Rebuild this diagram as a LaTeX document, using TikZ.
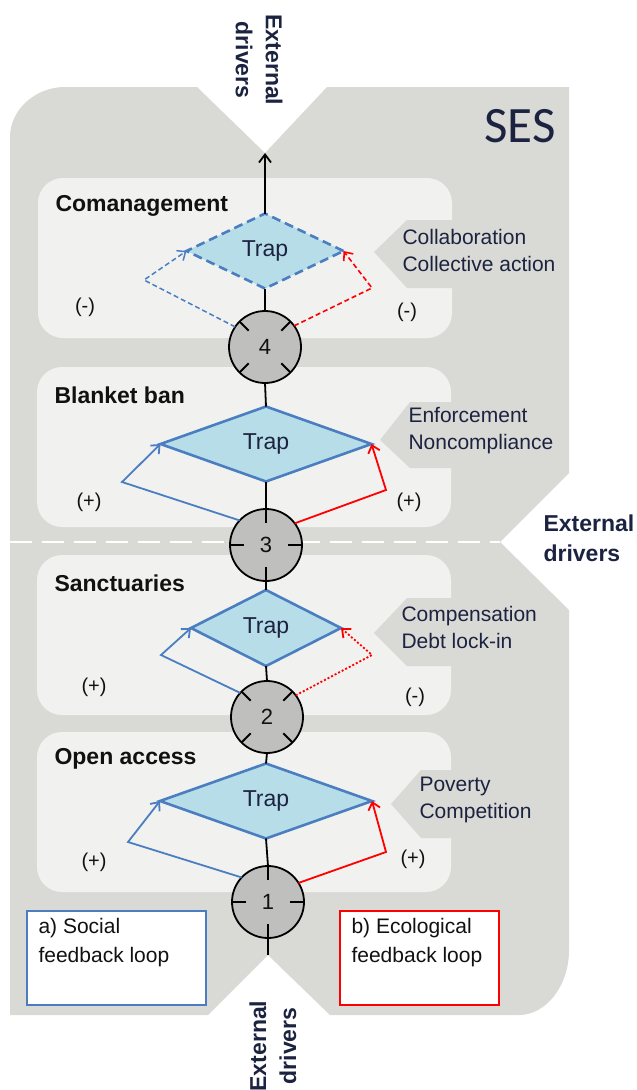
\documentclass[tikz,border=0pt]{standalone}
\usepackage{fontspec}
\setmainfont{Liberation Sans}
\newfontfamily\sesfont{Carlito}
\usetikzlibrary{shapes.geometric,arrows.meta}
\definecolor{outg}{HTML}{D9D9D5}
\definecolor{pang}{HTML}{F1F1F0}
\definecolor{sblue}{RGB}{74,126,193}
\definecolor{sred}{RGB}{255,0,0}
\definecolor{dfill}{HTML}{B7DEE8}
\definecolor{cfill}{HTML}{BFC0BE}
\definecolor{navy}{HTML}{1C2340}
\definecolor{ink}{HTML}{111111}
\begin{document}
\begin{tikzpicture}[x=1pt,y=-1pt,
  panel/.style={fill=pang,rounded corners=25pt},
  trapbox/.style={shape=diamond,draw=sblue,fill=dfill,line width=2.6pt,inner sep=0pt,outer sep=0pt,
    text=navy,font=\fontsize{23}{27}\selectfont},
  circbase/.style={circle,draw=black,fill=cfill,line width=1.8pt,minimum size=72pt,inner sep=0pt,outer sep=0pt,
    text=ink,font=\fontsize{22}{26}\selectfont},
  crosscirc/.style={circbase,path picture={\foreach \a in {0,90,180,270}
      \draw[line width=1.8pt] (path picture bounding box.center) ++(\a:22pt) -- ++(\a:20pt);}},
  diagcirc/.style={circbase,path picture={\foreach \a in {45,135,225,315}
      \draw[line width=1.8pt] (path picture bounding box.center) ++(\a:23pt) -- ++(\a:20pt);}},
  vline/.style={draw=black,line width=1.8pt},
  bloop/.style={draw=sblue,line width=1.8pt,-{Straight Barb[length=7pt,width=12pt]}},
  rloop/.style={draw=sred,line width=1.8pt,-{Straight Barb[length=7pt,width=12pt]}},
  title/.style={anchor=west,text=ink,font=\fontsize{23}{27}\selectfont\bfseries},
  callout/.style={anchor=west,align=left,text=navy,font=\fontsize{21}{27}\selectfont},
  sign/.style={text=ink,font=\fontsize{20}{24}\selectfont},
  drivers/.style={align=center,text=navy,font=\fontsize{23}{30}\selectfont\bfseries},
  legbox/.style={draw,line width=1.6pt,fill=white,minimum width=179pt,minimum height=94pt,anchor=north west,inner sep=0pt},
  legtext/.style={anchor=north west,align=left,text=ink,font=\fontsize{21}{29}\selectfont}]
% background
\fill[white] (0,0) rectangle (637,1090);
\useasboundingbox (0,0) rectangle (637,1090);
% outer SES shape
\fill[outg] (10,1015) -- (10,137) .. controls (10,110) and (35,87) .. (65,87)
  -- (197,87) -- (265,153) -- (327,87) -- (569,87) -- (569,473) -- (500,542) -- (569,610)
  -- (569,950) .. controls (569,986) and (546,1015) .. (519,1015)
  -- (330,1015) -- (268,955) -- (208,1015) -- cycle;
% panels
\path[panel] (38,178) rectangle (452,338);
\path[panel] (37,367) rectangle (451,527);
\path[panel] (37,555) rectangle (451,715);
\path[panel] (37,732) rectangle (451,892);
% callout tabs
\fill[outg] (374,252) -- (407,220) -- (470,220) -- (470,288) -- (407,288) -- cycle;
\fill[outg] (380,440) -- (410,402) -- (470,402) -- (470,468) -- (410,468) -- cycle;
\fill[outg] (374,633) -- (407,598) -- (470,598) -- (470,666) -- (407,666) -- cycle;
\fill[outg] (391,804) -- (421,770) -- (470,770) -- (470,838) -- (421,838) -- cycle;
% dashed divider
\draw[white,line width=2pt,dash pattern=on 22pt off 10pt] (10,542) -- (500,542);
% SES label
\node[text=navy,font=\sesfont\fontsize{51}{55}\selectfont] (ses) at (520,126) {SES};
% external drivers
\node[drivers,rotate=-90] (edtop) at (259,60) {External\\drivers};
\node[drivers,rotate=90] (edbot) at (273,1046) {External\\drivers};
\node[drivers,anchor=west,align=left] (edright) at (540,538) {External\\drivers};
\coordinate (topapex) at (265,153);
\coordinate (botapex) at (268,955);
% traps
\node[trapbox,dash pattern=on 9pt off 5pt,minimum width=157pt,minimum height=75pt] (d1) at (265,251) {Trap};
\node[trapbox,minimum width=211pt,minimum height=75pt] (d2) at (266,444) {Trap};
\node[trapbox,minimum width=150pt,minimum height=76pt] (d3) at (266,628) {Trap};
\node[trapbox,minimum width=212pt,minimum height=75pt] (d4) at (266,801) {Trap};
% circles
\node[diagcirc] (c4) at (265,347) {4};
\node[crosscirc] (c3) at (266,545) {3};
\node[diagcirc] (c2) at (267,717) {2};
\node[crosscirc] (c1) at (268,902) {1};
% vertical connectors
\draw[vline,-{Straight Barb[length=8pt,width=12pt]}] (d1.north) -- (topapex);
\draw[vline] (c4.north) -- (d1.south);
\draw[vline] (d2.north) -- (c4.south);
\draw[vline] (c3.north) -- (d2.south);
\draw[vline] (d3.north) -- (c3.south);
\draw[vline] (c2.north) -- (d3.south);
\draw[vline] (d4.north) -- (c2.south);
\draw[vline] (c1.north) -- (d4.south);
\draw[vline] (c1.south) -- (botapex);
% feedback loops
\draw[bloop,dash pattern=on 5pt off 3pt,line width=1.5pt] (c4.146) -- (144,280) -- (d1.west);
\draw[rloop,dash pattern=on 5pt off 3pt,line width=1.6pt] (c4.36) -- (372,288) -- (d1.east);
\draw[bloop] (c3.137) -- (122,482) -- (d2.west);
\draw[rloop] (c3.37) -- (386,490) -- (d2.east);
\draw[bloop] (c2.138) -- (161,655) -- (d3.west);
\draw[rloop,dash pattern=on 2pt off 2pt] (c2.37) -- (372,655) -- (d3.east);
\draw[bloop] (c1.137) -- (128,842) -- (d4.west);
\draw[rloop] (c1.32) -- (386,852) -- (d4.east);
% titles
\node[title] (t1) at (52,206) {Comanagement};
\node[title] (t2) at (51,395) {Blanket ban};
\node[title] (t3) at (51,583) {Sanctuaries};
\node[title] (t4) at (51,759) {Open access};
% callout texts
\node[callout] (k1) at (399,250) {Collaboration\\Collective action};
\node[callout] (k2) at (405,431) {Enforcement\\Noncompliance};
\node[callout] (k3) at (398,627) {Compensation\\Debt lock-in};
\node[callout] (k4) at (416,800) {Poverty\\Competition};
% signs
\node[sign] (s1l) at (85,307) {(-)};
\node[sign] (s1r) at (407,312) {(-)};
\node[sign] (s2l) at (89,502) {(+)};
\node[sign] (s2r) at (409,502) {(+)};
\node[sign] (s3l) at (94,687) {(+)};
\node[sign] (s3r) at (415,697) {(-)};
\node[sign] (s4l) at (94,862) {(+)};
\node[sign] (s4r) at (413,859) {(+)};
% legend
\node[legbox,draw=sblue] (la) at (26,910) {};
\node[legtext] (lat) at (35,915) {a) Social\\feedback loop};
\node[legbox,draw=sred,minimum width=159pt] (lb) at (339,910) {};
\node[legtext] (lbt) at (348,915) {b) Ecological\\feedback loop};
\end{tikzpicture}
\end{document}
